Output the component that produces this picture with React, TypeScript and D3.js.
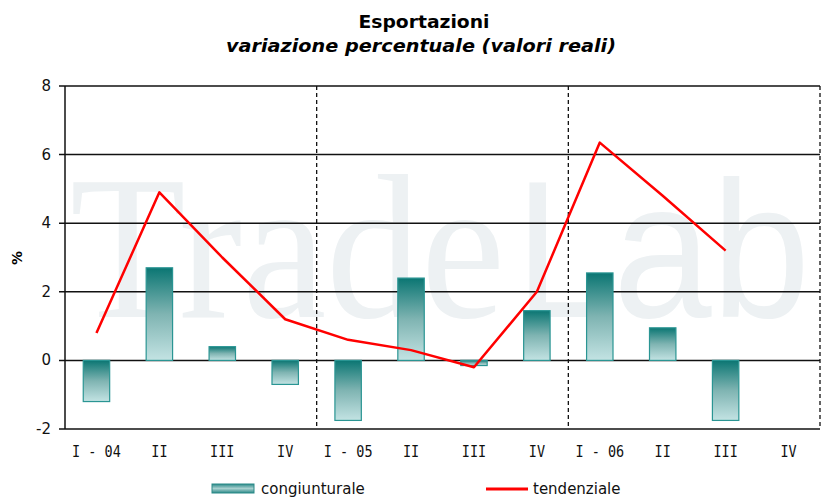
import React from 'react';
import { scaleBand, scaleLinear, line } from 'd3';

const categories = ['I - 04', 'II', 'III', 'IV', 'I - 05', 'II ', 'III ', 'IV ', 'I - 06', 'II  ', 'III  ', 'IV  '];
const congiunturale = [-1.2, 2.7, 0.4, -0.7, -1.75, 2.4, -0.15, 1.45, 2.55, 0.95, -1.75, null];
const tendenziale = [0.8, 4.9, 3.0, 1.2, 0.6, 0.3, -0.2, 2.0, 6.35, 4.8, 3.2, null];
const yTicks = [-2, 0, 2, 4, 6, 8];
const yearStarts = ['I - 05', 'I - 06'];

const W = 823;
const H = 499;
const left = 65;
const right = 820;
const top = 86;
const bottom = 429;

export default function App() {
  const x = scaleBand<string>().domain(categories).range([left, right]).padding(0);
  const y = scaleLinear().domain([-2, 8]).range([bottom, top]);
  const bw = x.bandwidth() * 0.42;
  const cx = (c: string) => (x(c) as number) + x.bandwidth() / 2;

  const pts = categories
    .map((c, i) => ({ c, v: tendenziale[i] }))
    .filter(d => d.v !== null) as { c: string; v: number }[];
  const path = line<{ c: string; v: number }>()
    .x(d => cx(d.c))
    .y(d => y(d.v))(pts);

  const font = '"DejaVu Sans", Verdana, sans-serif';

  return (
    <svg width={W} height={H} style={{ position: 'absolute', left: 0, top: 0 }}>
      <defs>
        <linearGradient id="barGrad" x1="0" y1="0" x2="0" y2="1">
          <stop offset="0" stopColor="#0b7673" />
          <stop offset="0.5" stopColor="#7fb4b2" />
          <stop offset="1" stopColor="#c3e3e3" />
        </linearGradient>
        <linearGradient id="legGrad" x1="0" y1="0" x2="0" y2="1">
          <stop offset="0" stopColor="#2c8a88" />
          <stop offset="0.5" stopColor="#a8d0cf" />
          <stop offset="1" stopColor="#2c8a88" />
        </linearGradient>
      </defs>
      <rect width={W} height={H} fill="#ffffff" />

      {/* watermark */}
      <text x={70} y={317} fontFamily='"Liberation Serif", serif' fontSize={205} fill="#edf1f3"
        textLength={435} lengthAdjust="spacingAndGlyphs">Trade</text>
      <text x={515} y={317} fontFamily='"Liberation Sans", sans-serif' fontSize={195} fill="#edf1f3"
        textLength={295} lengthAdjust="spacingAndGlyphs">Lab</text>

      {/* title */}
      <text x={424} y={28} textAnchor="middle" fontFamily={font} fontWeight="bold" fontSize={18}
        textLength={131} lengthAdjust="spacingAndGlyphs">Esportazioni</text>
      <text x={421} y={52} textAnchor="middle" fontFamily={font} fontWeight="bold" fontStyle="italic" fontSize={18}
        textLength={390} lengthAdjust="spacingAndGlyphs">
        variazione percentuale (valori reali)
      </text>

      {/* grid */}
      {yTicks.map(t => (
        <g key={t}>
          <line x1={left - 6} x2={right} y1={y(t)} y2={y(t)} stroke="#111" strokeWidth={1.5} />
          <text x={51} y={y(t) + 5} textAnchor="end" fontFamily={font} fontSize={15} fill="#111">{t}</text>
        </g>
      ))}
      {yearStarts.map(c => (
        <line key={c} x1={x(c)} x2={x(c)} y1={top} y2={bottom} stroke="#111" strokeWidth={1.3} strokeDasharray="4,3" />
      ))}
      <line x1={right} x2={right} y1={top} y2={bottom} stroke="#111" strokeWidth={1.3} strokeDasharray="4,3" />
      <line x1={left} x2={left} y1={top} y2={bottom} stroke="#111" strokeWidth={1.5} />

      <text transform={`translate(22,258) rotate(-90)`} textAnchor="middle" fontFamily={font} fontWeight="bold" fontSize={14}>%</text>

      {/* bars */}
      {categories.map((c, i) => {
        const v = congiunturale[i];
        if (v === null) return null;
        const y0 = y(0);
        const y1 = y(v);
        return (
          <rect key={c} x={cx(c) - bw / 2} y={Math.min(y0, y1)} width={bw} height={Math.abs(y1 - y0)}
            fill="url(#barGrad)" stroke="#2a9593" strokeWidth={1.2} />
        );
      })}

      <path d={path || ''} fill="none" stroke="#ff0000" strokeWidth={2.5} strokeLinejoin="round" />

      {/* x labels */}
      {categories.map(c => (
        <text key={c} transform={`translate(${cx(c)},457) scale(1,1.2)`} textAnchor="middle"
          fontFamily='"DejaVu Sans Mono", monospace' fontSize={13.5} fill="#111">
          {c.trim()}
        </text>
      ))}

      {/* legend */}
      <rect x={212} y={484} width={42} height={9} fill="url(#legGrad)" stroke="#2a8a88" strokeWidth={1} />
      <text x={261} y={494} fontFamily={font} fontSize={15} fill="#111">congiunturale</text>
      <line x1={486} x2={528} y1={489} y2={489} stroke="#ff0000" strokeWidth={3} />
      <text x={533} y={494} fontFamily={font} fontSize={15} fill="#111">tendenziale</text>
    </svg>
  );
}
